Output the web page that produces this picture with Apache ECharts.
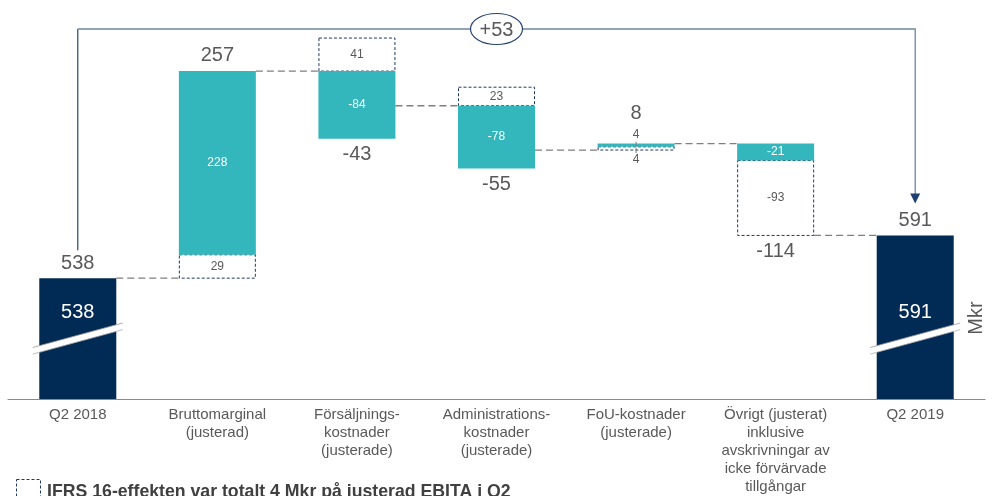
<!DOCTYPE html>
<html>
<head>
<meta charset="utf-8">
<script src="https://cdn.jsdelivr.net/npm/echarts@6/dist/echarts.min.js"></script>
<style>
html,body{margin:0;padding:0;background:#fff;}
#chart{width:993px;height:496px;}
</style>
</head>
<body>
<div id="chart"></div>
<script>
// ---- data ----
const categories = [
  'Q2 2018',
  'Bruttomarginal\n(justerad)',
  'Försäljnings-\nkostnader\n(justerade)',
  'Administrations-\nkostnader\n(justerade)',
  'FoU-kostnader\n(justerade)',
  'Övrigt (justerat)\ninklusive\navskrivningar av\nicke förvärvade\ntillgångar',
  'Q2 2019'
];
const startTotal = 538;
const endTotal = 591;
const reportedChange = [228, -84, -78, 4, -21];   // teal bars
const ifrsChange = [29, 41, 23, 4, -93];         // dashed boxes
const netChange = [257, -43, -55, 8, -114];      // big labels
const totalDiffLabel = '+53';
const axisMin = 388, axisMax = 846;
const breakAt = 463;

// ---- build tables ----
const segments = [];   // [cat, lo, hi, kind, value]
const netLabels = [];  // [cat, anchorValue, dir, text]
const connectors = []; // [cat, level]
let level = startTotal;
connectors.push([0, startTotal]);
for (let i = 0; i < reportedChange.length; i++) {
  const cat = i + 1;
  let pos = level, neg = level;
  const t = reportedChange[i], d = ifrsChange[i];
  [['ifrs', d], ['teal', t]].forEach(([k, v]) => {
    if (v > 0) { segments.push([cat, pos, pos + v, k, v]); pos += v; }
  });
  [['teal', t], ['ifrs', d]].forEach(([k, v]) => {
    if (v < 0) { segments.push([cat, neg + v, neg, k, v]); neg += v; }
  });
  const n = netChange[i];
  netLabels.push(n > 0 ? [cat, pos, 1, String(n)] : [cat, neg, -1, String(n)]);
  level += t + d;
  connectors.push([cat, level]);
}
const totalsData = [[0, startTotal], [categories.length - 1, endTotal]];

const TEAL = '#33b7bc', NAVY = '#012a55', GRAY = '#595959', BOX = '#1f3864';
const BW = 77;

const chart = echarts.init(document.getElementById('chart'));
chart.setOption({
  animation: false,
  grid: {left: 8, right: 8, top: 30, bottom: 97},
  xAxis: {
    type: 'category', data: categories,
    axisLine: {lineStyle: {color: '#8a8a8a', width: 1.2}},
    axisTick: {show: false},
    axisLabel: {interval: 0, color: GRAY, fontSize: 15, lineHeight: 18, margin: 7, fontFamily: 'Liberation Sans, Arial, sans-serif'}
  },
  yAxis: {type: 'value', min: axisMin, max: axisMax, show: false, splitLine: {show: false}},
  series: [
    { // connectors
      type: 'custom', z: 1, data: connectors,
      renderItem: (p, api) => {
        const c = api.value(0), v = api.value(1);
        const a = api.coord([c, v]), b = api.coord([c + 1, v]);
        return {type: 'line', shape: {x1: a[0] + BW / 2, y1: a[1], x2: b[0] - BW / 2, y2: b[1]},
          style: {stroke: '#7f7f7f', lineWidth: 1.3, lineDash: [7, 4]}};
      }
    },
    { // totals
      type: 'custom', z: 3, data: totalsData,
      renderItem: (p, api) => {
        const c = api.value(0), v = api.value(1);
        const top = api.coord([c, v]), bot = api.coord([c, axisMin]), br = api.coord([c, breakAt]);
        const cx = top[0], cy = br[1], s = 24.5 / 90, h = 45, th = 3.3;
        return {type: 'group', children: [
          {type: 'rect', shape: {x: cx - BW / 2, y: top[1], width: BW, height: bot[1] - top[1]}, style: {fill: NAVY}},
          {type: 'polygon', shape: {points: [[cx - h, cy + h * s - th], [cx + h, cy - h * s - th], [cx + h, cy - h * s + th], [cx - h, cy + h * s + th]]}, style: {fill: '#fff'}},
          {type: 'line', shape: {x1: cx - h, y1: cy + h * s - th, x2: cx + h, y2: cy - h * s - th}, style: {stroke: '#9a9a9a', lineWidth: 0.8}},
          {type: 'line', shape: {x1: cx - h, y1: cy + h * s + th, x2: cx + h, y2: cy - h * s + th}, style: {stroke: '#b0b0b0', lineWidth: 0.8}},
          {type: 'text', style: {text: String(v), x: cx, y: top[1] - 15, align: 'center', verticalAlign: 'middle', fill: GRAY, fontSize: 20, fontFamily: 'Liberation Sans, Arial'}},
          {type: 'text', style: {text: String(v), x: cx, y: cy - 26, align: 'center', verticalAlign: 'middle', fill: '#fff', fontSize: 20, fontFamily: 'Liberation Sans, Arial'}}
        ]};
      }
    },
    { // change segments
      type: 'custom', z: 2, data: segments,
      renderItem: (p, api) => {
        const c = api.value(0), lo = api.value(1), hi = api.value(2);
        const kind = segments[p.dataIndex][3], v = api.value(4);
        const t = api.coord([c, hi]), b = api.coord([c, lo]);
        const cx = t[0], ht = b[1] - t[1];
        const small = ht < 12;
        const children = [];
        if (kind === 'teal') {
          children.push({type: 'rect', z2: 2, shape: {x: cx - BW / 2, y: t[1], width: BW, height: ht}, style: {fill: TEAL}});
        } else {
          children.push({type: 'rect', z2: 1, shape: {x: cx - BW / 2 + 0.5, y: t[1], width: BW - 1, height: ht}, style: {fill: '#fff', stroke: BOX, lineWidth: 1, lineDash: [3, 2]}});
        }
        let ly = (t[1] + b[1]) / 2;
        if (small) {
          ly = kind === 'teal' ? t[1] - 9 : b[1] + 10;
          children.push({type: 'line', z2: 3, shape: {x1: cx, y1: kind === 'teal' ? t[1] - 2 : b[1] - 2, x2: cx, y2: kind === 'teal' ? t[1] + 3 : b[1] + 3}, style: {stroke: '#7f7f7f', lineWidth: 1}});
        }
        children.push({type: 'text', z2: 4, style: {text: String(v), x: cx, y: ly, align: 'center', verticalAlign: 'middle',
          fill: (kind === 'teal' && !small) ? '#fff' : GRAY, fontSize: 12, fontFamily: 'Liberation Sans, Arial'}});
        return {type: 'group', children};
      }
    },
    { // net labels
      type: 'custom', z: 4, data: netLabels,
      renderItem: (p, api) => {
        const item = netLabels[p.dataIndex];
        const pt = api.coord([item[0], item[1]]);
        const segs = segments.filter(s => s[0] === item[0]);
        const hasSmall = segs.some(s => Math.abs(api.coord([s[0], s[2]])[1] - api.coord([s[0], s[1]])[1]) < 12);
        const off = item[2] > 0 ? -(16 + (hasSmall ? 14 : 0)) : 16;
        return {type: 'text', style: {text: item[3], x: pt[0], y: pt[1] + off, align: 'center', verticalAlign: 'middle', fill: GRAY, fontSize: 20, fontFamily: 'Liberation Sans, Arial'}};
      }
    },
    { // total difference bracket
      type: 'custom', z: 5, data: [[0, categories.length - 1]],
      renderItem: (p, api) => {
        const a = api.coord([0, startTotal]), b = api.coord([categories.length - 1, endTotal]);
        const topY = api.coord([0, axisMax])[1] - 1;
        const midX = (a[0] + b[0]) / 2;
        const tipY = b[1] - 32;
        return {type: 'group', children: [
          {type: 'line', shape: {x1: a[0], y1: a[1] - 28, x2: a[0], y2: topY}, style: {stroke: '#2b4670', lineWidth: 1.2}},
          {type: 'polyline', shape: {points: [[a[0], topY], [b[0], topY], [b[0], tipY - 8]]}, style: {stroke: '#6d86a3', lineWidth: 1.3, fill: null}},
          {type: 'polygon', shape: {points: [[b[0] - 5, tipY - 10], [b[0] + 5, tipY - 10], [b[0], tipY]]}, style: {fill: '#1f3f6e'}},
          {type: 'ellipse', shape: {cx: midX, cy: topY, rx: 26, ry: 15.5}, style: {fill: '#fff', stroke: '#24446f', lineWidth: 1.2}},
          {type: 'text', style: {text: totalDiffLabel, x: midX, y: topY + 1, align: 'center', verticalAlign: 'middle', fill: GRAY, fontSize: 20, fontFamily: 'Liberation Sans, Arial'}}
        ]};
      }
    }
  ],
  graphic: [
    {type: 'text', x: 976, y: 318, rotation: Math.PI / 2, style: {text: 'Mkr', align: 'center', verticalAlign: 'middle', fill: GRAY, fontSize: 20, fontFamily: 'Liberation Sans, Arial'}},
    {type: 'rect', shape: {x: 16.5, y: 479.5, width: 24, height: 22}, style: {fill: '#fff', stroke: BOX, lineWidth: 1, lineDash: [3, 2]}},
    {type: 'text', x: 47, y: 492, style: {text: 'IFRS 16-effekten var totalt 4 Mkr på justerad EBITA i Q2', verticalAlign: 'middle', fill: '#404040', fontSize: 17.7, fontWeight: 'bold', fontFamily: 'Liberation Sans, Arial'}}
  ]
});
</script>
</body>
</html>
